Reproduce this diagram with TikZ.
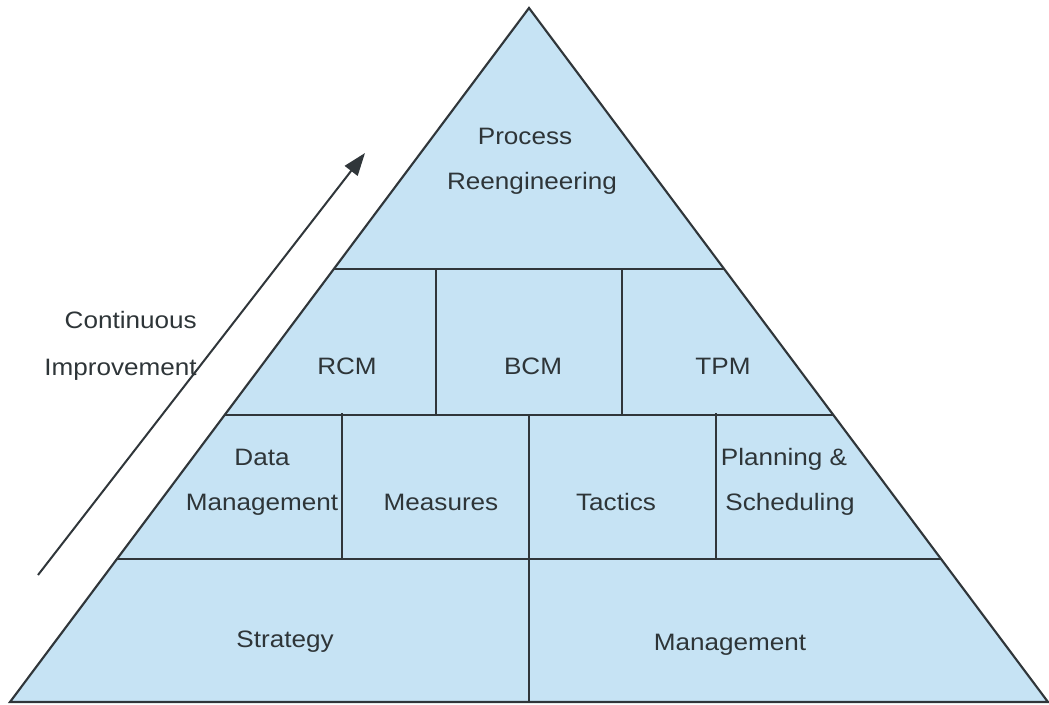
\documentclass[tikz,border=0pt]{standalone}
\usepackage{fontspec}
\setmainfont{Liberation Sans}[FakeStretch=1.1]
\usetikzlibrary{arrows.meta}
\definecolor{pyrfill}{HTML}{C6E3F4}
\definecolor{pyrline}{HTML}{30363A}
\definecolor{pyrtext}{HTML}{2E3538}
\begin{document}
\begin{tikzpicture}[x=0.75pt,y=-0.75pt,
  lbl/.style={anchor=base,inner sep=0pt,text=pyrtext,font=\fontsize{17.8}{21}\selectfont},
  rlbl/.style={lbl,anchor=base east},
  edge/.style={draw=pyrline,line width=1.6pt},
  sep/.style={draw=pyrline,line width=1.5pt}]
\useasboundingbox (0,0) rectangle (1049,704);
% pyramid corners
\coordinate (A) at (529,8);
\coordinate (BL) at (10,702);
\coordinate (BR) at (1048,702);
% row boundaries on the edges
\coordinate (L1) at (333.8,269); \coordinate (R1) at (724.2,269);
\coordinate (L2) at (224.6,415); \coordinate (R2) at (833.4,415);
\coordinate (L3) at (116.9,559); \coordinate (R3) at (941.1,559);
\fill[pyrfill] (A) -- (BL) -- (BR) -- cycle;
% horizontal separators
\draw[sep] (L1) -- (R1);
\draw[sep] (L2) -- (R2);
\draw[sep] (L3) -- (R3);
% vertical separators
\coordinate (v1t) at (436,269); \coordinate (v1b) at (436,415);
\coordinate (v2t) at (622,269); \coordinate (v2b) at (622,415);
\coordinate (v3t) at (342,413); \coordinate (v3b) at (342,559);
\coordinate (v4t) at (529,415); \coordinate (v4b) at (529,702);
\coordinate (v5t) at (716,413); \coordinate (v5b) at (716,559);
\draw[sep] (v1t) -- (v1b);
\draw[sep] (v2t) -- (v2b);
\draw[sep] (v3t) -- (v3b);
\draw[sep] (v4t) -- (v4b);
\draw[sep] (v5t) -- (v5b);
\draw[edge,line join=miter] (A) -- (BL) -- (BR) -- cycle;
% arrow
\coordinate (arT) at (38,575);
\coordinate (arH) at (365,153);
\draw[draw=pyrline,line width=1.5pt,-{Triangle[length=17pt,width=12pt]}] (arT) -- (arH);
% labels
\node[rlbl] (ci1) at (197,328) {Continuous};
\node[rlbl] (ci2) at (197,375) {Improvement};
\node[lbl] (pr1) at (525,144) {Process};
\node[lbl] (pr2) at (532,189) {Reengineering};
\node[lbl] (rcm) at (347,374) {RCM};
\node[lbl] (bcm) at (533,374) {BCM};
\node[lbl] (tpm) at (723,374) {TPM};
\node[lbl] (dm1) at (262,465) {Data};
\node[lbl] (dm2) at (262,510) {Management};
\node[lbl] (mea) at (441,510) {Measures};
\node[lbl] (tac) at (616,510) {Tactics};
\node[lbl] (ps1) at (784,465) {Planning \&};
\node[lbl] (ps2) at (790,510) {Scheduling};
\node[lbl] (str) at (285,647) {Strategy};
\node[lbl] (mgt) at (730,650) {Management};
\end{tikzpicture}
\end{document}
